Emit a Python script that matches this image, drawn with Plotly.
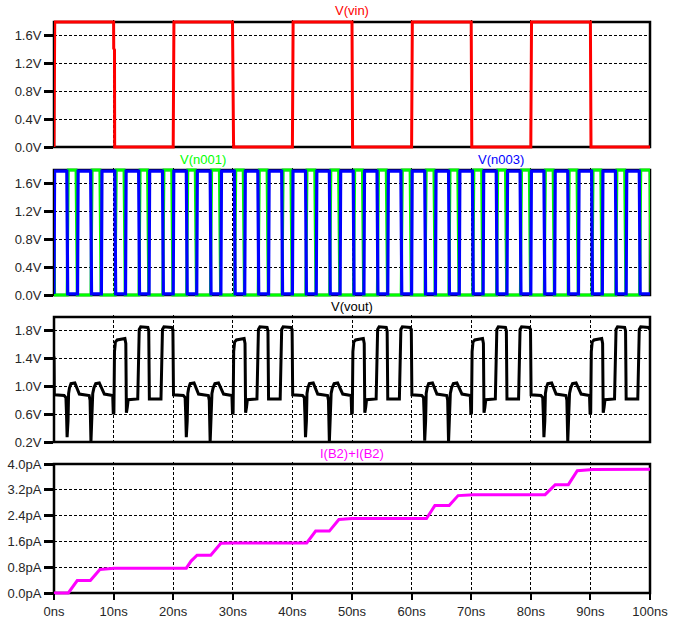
import plotly.graph_objects as go

# ---------------- data ----------------
# Pane 1: V(vin)  (time in ns, volts)
vin_t = [0.0, 0.12, 10.0, 10.02, 10.15, 10.18, 20.0, 20.12, 29.95, 30.0, 30.12, 30.15,
         40.0, 40.12, 50.0, 50.1, 60.0, 60.12, 70.0, 70.1, 80.0, 80.12, 90.0, 90.1, 100.0]
vin_v = [0.0, 1.8, 1.8, 1.42, 1.40, 0.0, 0.0, 1.8, 1.8, 0.1, 0.08, 0.0,
         0.0, 1.8, 1.8, 0.0, 0.0, 1.8, 1.8, 0.0, 0.0, 1.8, 1.8, 0.0, 0.0]

# Pane 2: V(n003) (blue) edge times, V(n001) (green, complementary) edge times
n003_rise = [0.0, 3.95, 7.95, 12.0, 15.95, 20.0, 23.95, 28.0, 32.0, 36.0, 40.0, 44.0, 48.0,
             52.0, 56.0, 60.0, 64.0, 68.0, 72.0, 76.0, 80.0, 84.0, 88.0, 92.0, 96.0]
n003_fall = [2.15, 6.15, 10.2, 14.2, 18.2, 22.2, 26.2, 30.25, 34.2, 38.2, 42.2, 46.2, 50.2,
             54.2, 58.2, 62.2, 66.2, 70.2, 74.2, 78.2, 82.2, 86.2, 90.2, 94.2, 98.2]
n001_rise = [2.2, 6.2, 10.25, 14.25, 18.25, 22.25, 26.25, 30.3, 34.25, 38.25, 42.25, 46.25, 50.25,
             54.25, 58.25, 62.25, 66.25, 70.25, 74.25, 78.25, 82.25, 86.25, 90.25, 94.25, 98.25]
n001_fall = [3.7, 7.7, 11.75, 15.7, 19.75, 23.7, 27.75, 31.75, 35.75, 39.75, 43.75, 47.75, 51.75,
             55.75, 59.75, 63.75, 67.75, 71.75, 75.75, 79.75, 83.75, 87.75, 91.75, 95.75, 100.0]
n003_levels = (0.015, 1.785)
n001_levels = (0.0, 1.8)
n001_start = 0.8

# Pane 3: V(vout) - one 20 ns period as read (relative ns, volts), placed at the observed period starts
vout_rel_t = [0.05, 1.7, 2.0, 2.1, 2.2, 2.35, 2.45, 2.6, 2.85, 3.5, 3.75, 3.95, 4.25,
              5.9, 6.05, 6.2, 6.35, 6.5, 6.7, 7.0, 7.6, 7.85, 8.1, 8.45,
              9.85, 9.95, 10.05, 10.15, 10.3, 10.6, 11.9, 12.05, 12.15, 12.3, 12.45,
              14.05, 14.15, 14.3, 14.55, 15.75, 15.9, 16.0, 17.95, 18.05, 18.2, 18.45, 19.75, 19.95]
vout_rel_v = [0.88, 0.87, 0.84, 0.6, None, 0.5, 0.9, 0.98, 1.04, 1.05, 1.0, 0.96, 0.89,
              0.87, 0.8, None, 0.6, 0.9, 0.98, 1.04, 1.05, 1.0, 0.94, 0.89,
              0.87, 0.6, 0.62, 1.5, 1.64, 1.67, 1.69, 1.62, 0.62, 0.7, 0.81,
              0.82, 1.6, 1.82, 1.86, 1.85, 1.8, 0.82, 0.82, 1.6, 1.82, 1.86, 1.85, 1.82]
vout_period_start = [0.0, 20.0, 40.0, 60.0, 80.0]
vout_dip1 = [0.27, 0.27, 0.27, 0.22, 0.27]
vout_dip2 = [0.2, 0.2, 0.2, 0.2, 0.2]
vout_t0, vout_v0 = 0.0, 1.43

# Pane 4: I(B2)+I(B2) (pA)
cur_t = [0.0, 2.4, 3.9, 6.1, 7.7, 10.1, 22.2, 23.0, 24.0, 26.3, 28.0, 30.0,
         42.4, 43.9, 46.2, 47.8, 50.0, 62.5, 63.9, 66.3, 67.8, 70.4,
         82.4, 84.1, 86.3, 87.8, 90.4, 100.0]
cur_v = [0.0, 0.0, 0.385, 0.385, 0.73, 0.77, 0.77, 0.99, 1.17, 1.17, 1.54, 1.55,
         1.55, 1.92, 1.92, 2.28, 2.31, 2.31, 2.71, 2.71, 3.02, 3.05,
         3.05, 3.36, 3.36, 3.79, 3.83, 3.84]

x_tickvals = [0, 10, 20, 30, 40, 50, 60, 70, 80, 90, 100]
x_ticktext = ["0ns", "10ns", "20ns", "30ns", "40ns", "50ns", "60ns", "70ns", "80ns", "90ns", "100ns"]
y1_tickvals = [0.0, 0.4, 0.8, 1.2, 1.6]
y1_ticktext = ["0.0V", "0.4V", "0.8V", "1.2V", "1.6V"]
y3_tickvals = [0.2, 0.6, 1.0, 1.4, 1.8]
y3_ticktext = ["0.2V", "0.6V", "1.0V", "1.4V", "1.8V"]
y4_tickvals = [0.0, 0.8, 1.6, 2.4, 3.2, 4.0]
y4_ticktext = ["0.0pA", "0.8pA", "1.6pA", "2.4pA", "3.2pA", "4.0pA"]

# ---------------- build polylines ----------------
def square(rises, falls, lo, hi, tr_r, tr_f, start=None):
    t, v = [], []
    if start is not None:
        t += [0.0, 0.1]
        v += [start, lo]
    for r, f in zip(rises, falls):
        t += [r, r + tr_r, f, f + tr_f]
        v += [lo, hi, hi, lo]
    return t, v

n003_t, n003_v = square(n003_rise, n003_fall, n003_levels[0], n003_levels[1], 0.1, 0.15)
n003_t.append(100.0)
n003_v.append(n003_levels[0])
n001_t, n001_v = square(n001_rise, n001_fall, n001_levels[0], n001_levels[1], 0.2, 0.2, start=n001_start)

vout_t, vout_v = [vout_t0], [vout_v0]
for k, p in enumerate(vout_period_start):
    for rt, rv in zip(vout_rel_t, vout_rel_v):
        if rv is None:
            rv = vout_dip1[k] if rt < 4 else vout_dip2[k]
        vout_t.append(p + rt)
        vout_v.append(rv)

# ---------------- layout ----------------
W, H = 685, 621
FX0, FX1 = 54, 650
frames = [(22, 147), (170, 295), (317, 442), (464, 593)]
yranges = [(0.0, 1.8), (0.0, 1.8), (0.2, 2.0), (0.0, 4.0)]
ytv = [(y1_tickvals, y1_ticktext), (y1_tickvals, y1_ticktext), (y3_tickvals, y3_ticktext), (y4_tickvals, y4_ticktext)]
E = 2.0
GRID = dict(showgrid=True, gridcolor="black", gridwidth=1, griddash="3px,2px", zeroline=False, showline=False)
TICKFONT = dict(family="Liberation Sans, Arial, sans-serif", size=13, color="#262626")

fig = go.Figure()
fig.add_trace(go.Scatter(x=vin_t, y=vin_v, mode="lines", line=dict(color="#ff0000", width=3), xaxis="x", yaxis="y"))
fig.add_trace(go.Scatter(x=n001_t, y=n001_v, mode="lines", line=dict(color="#00ff00", width=3), xaxis="x2", yaxis="y2"))
fig.add_trace(go.Scatter(x=n003_t, y=n003_v, mode="lines", line=dict(color="#0000ff", width=3.2), xaxis="x2", yaxis="y2"))
fig.add_trace(go.Scatter(x=vout_t, y=vout_v, mode="lines", line=dict(color="#000000", width=3), xaxis="x3", yaxis="y3"))
fig.add_trace(go.Scatter(x=cur_t, y=cur_v, mode="lines", line=dict(color="#ff00ff", width=3), xaxis="x4", yaxis="y4"))

lay = dict(width=W, height=H, margin=dict(l=0, r=0, t=0, b=0, autoexpand=False),
           paper_bgcolor="white", plot_bgcolor="white", showlegend=False,
           font=dict(family="Liberation Sans, Arial, sans-serif", size=13, color="#262626"))
shapes = []
for i in range(4):
    top, bot = frames[i]
    a, b = yranges[i]
    ext = E * (b - a) / (bot - top)
    sx = "" if i == 0 else str(i + 1)
    xa = dict(domain=[FX0 / W, FX1 / W], range=[0, 100], tickvals=x_tickvals, **GRID)
    if i == 3:
        xa.update(anchor="free", position=1 - bot / H, ticks="outside", ticklen=6, tickwidth=2,
                  tickcolor="black", showticklabels=True, ticktext=x_ticktext, tickfont=TICKFONT)
    else:
        xa.update(anchor="y" + sx, ticks="", showticklabels=False, matches="x4")
    ya = dict(domain=[1 - (bot + E) / H, 1 - (top - E) / H], range=[a - ext, b + ext],
              tickvals=ytv[i][0], ticktext=ytv[i][1], ticks="outside", ticklen=9, tickwidth=3,
              tickcolor="black", tickfont=TICKFONT, anchor="x" + sx, **GRID)
    lay["xaxis" + sx] = xa
    lay["yaxis" + sx] = ya
    shapes.append(dict(type="rect", xref="paper", yref="paper", x0=FX0 / W, x1=FX1 / W,
                       y0=1 - bot / H, y1=1 - top / H, line=dict(color="black", width=2.5),
                       fillcolor="rgba(0,0,0,0)", layer="below"))
lay["shapes"] = shapes

def ann(text, xpx, ypx, color):
    return dict(text=text, xref="paper", yref="paper", x=xpx / W, y=1 - ypx / H,
                xanchor="center", yanchor="middle", showarrow=False,
                font=dict(family="Liberation Sans, Arial, sans-serif", size=13, color=color))

lay["annotations"] = [
    ann("V(vin)", 352, 11, "#ff0000"),
    ann("V(n001)", 203, 159, "#00ff00"),
    ann("V(n003)", 501, 159, "#0000ff"),
    ann("V(vout)", 352, 306, "#000000"),
    ann("I(B2)+I(B2)", 352, 453, "#ff00ff"),
]
fig.update_layout(**lay)
# remove the browser's default 8 px page margin so the figure fills the window exactly
fig.write_html("out.html", config={"displayModeBar": False},
               post_script="document.body.style.margin='0px';")
